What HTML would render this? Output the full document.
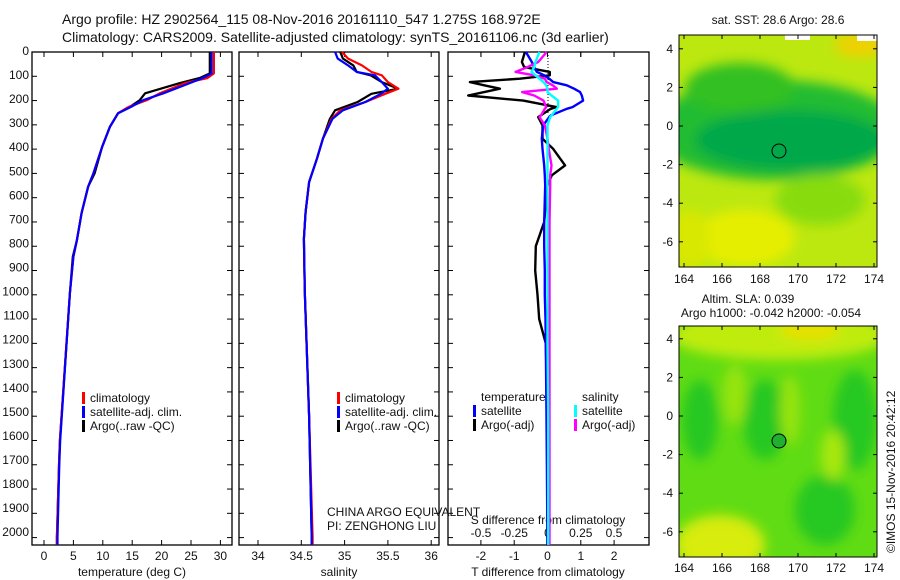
<!DOCTYPE html>
<html><head><meta charset="utf-8"><style>
body{margin:0;background:#fff;}
svg{display:block;font-family:"Liberation Sans",sans-serif;}
text{fill:#111;}
</style></head><body>
<svg id="fig" width="900" height="580" viewBox="0 0 900 580">
<defs>
<filter id="blur6" x="-20%" y="-20%" width="140%" height="140%"><feGaussianBlur stdDeviation="6"/></filter>
<clipPath id="c1"><rect x="679" y="35" width="198" height="232"/></clipPath>
<clipPath id="c2"><rect x="679" y="326" width="198" height="231"/></clipPath>
</defs>
<text x="62" y="24" font-size="14">Argo profile: HZ 2902564_115 08-Nov-2016 20161110_547 1.275S 168.972E</text>
<text x="62" y="42" font-size="14">Climatology: CARS2009. Satellite-adjusted climatology: synTS_20161106.nc (3d earlier)</text>

<!-- map 1 -->
<g clip-path="url(#c1)">
<rect x="679" y="35" width="198" height="232" fill="#bce810"/>
<g filter="url(#blur6)">
<ellipse cx="775" cy="130" rx="125" ry="50" fill="#20bc30"/>
<ellipse cx="790" cy="140" rx="95" ry="30" fill="#05a84a"/>
<ellipse cx="740" cy="88" rx="55" ry="25" fill="#30c020"/>
<ellipse cx="745" cy="238" rx="50" ry="28" fill="#e6ee00"/>
<ellipse cx="690" cy="240" rx="20" ry="30" fill="#d8e800"/>
<ellipse cx="860" cy="45" rx="25" ry="12" fill="#f0d000"/>
<ellipse cx="820" cy="200" rx="45" ry="25" fill="#88dc10"/>
</g>
<rect x="857" y="35" width="20" height="6" fill="#fff"/>
<rect x="785" y="35" width="25" height="5" fill="#fff"/>
<circle cx="779" cy="151" r="7" fill="none" stroke="#000" stroke-width="1"/>
</g>
<rect x="679" y="35" width="198" height="232" fill="none" stroke="#000"/>
<text x="778" y="24" font-size="12" text-anchor="middle">sat. SST: 28.6 Argo: 28.6</text>

<!-- map 2 -->
<g clip-path="url(#c2)">
<rect x="679" y="326" width="198" height="231" fill="#60dc14"/>
<g filter="url(#blur6)">
<ellipse cx="780" cy="335" rx="110" ry="25" fill="#c0ec10"/>
<ellipse cx="810" cy="330" rx="30" ry="10" fill="#e8e000"/>
<ellipse cx="720" cy="545" rx="45" ry="30" fill="#d8ec10"/>
<ellipse cx="700" cy="420" rx="18" ry="40" fill="#28c820"/>
<ellipse cx="765" cy="420" rx="22" ry="40" fill="#28c820"/>
<ellipse cx="855" cy="420" rx="22" ry="50" fill="#28c820"/>
<ellipse cx="825" cy="510" rx="30" ry="35" fill="#28c820"/>
<ellipse cx="735" cy="395" rx="12" ry="30" fill="#98e410"/>
<ellipse cx="790" cy="410" rx="10" ry="35" fill="#98e410"/>
<ellipse cx="833" cy="455" rx="12" ry="25" fill="#a8e810"/>
</g>
<circle cx="779" cy="441" r="7" fill="#20b030" stroke="#000" stroke-width="1"/>
</g>
<rect x="679" y="326" width="198" height="231" fill="none" stroke="#000"/>
<text x="748" y="303" font-size="12" text-anchor="middle">Altim. SLA: 0.039</text>
<text x="771" y="317" font-size="12" text-anchor="middle">Argo h1000: -0.042 h2000: -0.054</text>
<text transform="translate(895,553) rotate(-90)" font-size="12">©IMOS 15-Nov-2016 20:42:12</text>
<g id="plots"></g>
</svg>
<script>
// ---- data ----
const depthT = [0,88,107,128,170,198,226,252,308,390,500,555,663,775,843,993,1600,1700,2000,2030];
const tempArgo = [28.2,28.2,26.5,23.1,17.2,16.3,14.6,12.6,11.2,9.9,8.6,7.5,6.4,5.6,4.9,4.4,2.7,2.55,2.2,2.2];
const tempClim = [28.9,28.9,27.8,24.0,19.7,17.5,14.4,12.6,11.2,9.9,8.4,7.5,6.4,5.6,5.0,4.4,2.7,2.55,2.2,2.2];
const tempSat  = [28.5,28.5,27.0,24.8,20.3,16.9,14.8,12.6,11.2,9.9,8.4,7.5,6.4,5.6,5.0,4.4,2.75,2.6,2.3,2.3];
const depthS = [0,27,55,82,96,124,151,172,206,240,275,357,440,536,659,769,989,1500,2000,2030];
const salArgo = [34.95,34.98,35.1,35.14,35.3,35.43,35.62,35.31,35.15,34.89,34.83,34.75,34.68,34.59,34.55,34.53,34.54,34.59,34.62,34.62];
const salClim = [34.97,35.04,35.2,35.31,35.43,35.5,35.62,35.47,35.24,34.95,34.85,34.75,34.68,34.59,34.55,34.53,34.54,34.59,34.63,34.63];
const salSat  = [34.89,34.92,35.04,35.14,35.35,35.43,35.5,35.42,35.24,34.98,34.86,34.75,34.68,34.59,34.55,34.53,34.54,34.59,34.62,34.62];
const depthD = [0,41,62,82,96,110,124,137,151,165,179,200,227,234,261,268,302,357,399,467,508,549,700,800,900,1000,1100,1200,1500,2030];
const dTArgo = [-0.68,-0.77,-0.7,0.07,0.07,-0.83,-2.33,-1.9,-1.43,-1.9,-2.38,-0.73,0.27,0.1,-0.2,-0.28,-0.15,-0.15,0.17,0.53,0.13,0.0,-0.1,-0.35,-0.37,-0.3,-0.25,-0.05,0.0,0.0];
const dTSat  = [-0.65,-0.47,-0.4,-0.32,-0.1,0.05,0.17,0.58,0.8,0.98,1.03,1.07,0.75,0.58,0.1,0.05,-0.13,-0.17,-0.15,-0.1,-0.08,-0.07,-0.1,-0.1,-0.08,-0.08,-0.06,-0.05,-0.03,0.0];
const dSArgo = [-0.006,-0.07,-0.15,-0.24,-0.1,-0.02,-0.006,0.04,0.07,-0.19,-0.1,-0.03,-0.01,-0.02,-0.05,-0.06,-0.02,0.0,0.01,0.03,0.02,0.02,0.015,0.015,0.015,0.015,0.015,0.015,0.015,0.015];
const dSSat  = [-0.06,-0.09,-0.1,-0.12,-0.09,-0.06,-0.03,-0.01,0.0,0.0,0.03,0.08,0.08,0.07,0.03,0.02,0.0,0.0,0.0,0.0,0.0,0.0,0.0,0.0,0.0,0.0,0.0,0.0,0.005,0.005];
const tempTicks = [0,5,10,15,20,25,30];
const salTicks = [34,34.5,35,35.5,36];
const dTTicks = [-2,-1,0,1,2];
const dSTicks = [-0.5,-0.25,0,0.25,0.5];
const depthTicks = [0,100,200,300,400,500,600,700,800,900,1000,1100,1200,1300,1400,1500,1600,1700,1800,1900,2000];
const lonTicks = [164,166,168,170,172,174];
const latTicks = [4,2,0,-2,-4,-6];

// ---- axes ----
const TOP=52, BOT=545;
const yD = d => TOP + d*0.2428;
const xT = v => 44 + v*5.88;
const xS = v => 258 + (v-34)*86.6;
const xDT = v => 547.5 + v*33.3;
const xDS = v => 547.5 + v*133;
const lonX = v => 684 + (v-164)*19;
const latY1 = v => 126 - v*19.3;
const latY2 = v => 416 - v*19.3;

const NS='http://www.w3.org/2000/svg';
const G=document.getElementById('plots');
function mk(tag, attrs, parent){const e=document.createElementNS(NS,tag);for(const k in attrs)e.setAttribute(k,attrs[k]);(parent||G).appendChild(e);return e;}
function txt(x,y,s,anchor,size){const e=mk('text',{x:x,y:y,'font-size':size||12,'text-anchor':anchor||'middle'});e.textContent=s;return e;}

const panels=[[32,232],[239,439],[448,649]];
panels.forEach((p,i)=>{
  const r=mk('rect',{x:p[0],y:TOP,width:p[1]-p[0],height:BOT-TOP,fill:'none',stroke:'#000','stroke-width':1.3});
  
  
  depthTicks.forEach(d=>{
    mk('line',{x1:p[0],x2:p[0]+5,y1:yD(d),y2:yD(d),stroke:'#000'});
    mk('line',{x1:p[1]-5,x2:p[1],y1:yD(d),y2:yD(d),stroke:'#000'});
  });
});
depthTicks.forEach((d,i)=>{
  const t=txt(29,51+i*24.06+4,String(d),'end',12);
  
  
});
function xticks(ticks,fx,labY,ticksTopOnly){
  ticks.forEach(v=>{
    const x=fx(v);
    mk('line',{x1:x,x2:x,y1:TOP,y2:TOP+5,stroke:'#000'});
    if(!ticksTopOnly) mk('line',{x1:x,x2:x,y1:BOT-5,y2:BOT,stroke:'#000'});
    if(labY){const t=txt(x,labY,String(v));
      
      }
  });
}
xticks(tempTicks,xT,560);
xticks(salTicks,xS,560);
xticks(dTTicks,xDT,560);
xticks(dSTicks,xDS,537,true);
let t;
t=txt(132,576,'temperature (deg C)');
t=txt(339,576,'salinity');
t=txt(548,576,'T difference from climatology');
t=txt(548,524,'S difference from climatology');
t=txt(327,516,'CHINA ARGO EQUIVALENT','start');
t=txt(327,530,'PI: ZENGHONG LIU','start');

// dotted zero line
mk('line',{x1:548,x2:548,y1:TOP,y2:yD(260),stroke:'#000','stroke-dasharray':'1,2'});

function series(depths,vals,fx,color,name,w){
  const pts=depths.map((d,i)=>fx(vals[i]).toFixed(1)+','+yD(d).toFixed(1)).join(' ');
  const e=mk('polyline',{points:pts,fill:'none',stroke:color,'stroke-width':w||2.2,'stroke-linejoin':'round'});
  
  
}
series(depthT,tempArgo,xT,'#000','temp-argo-line');
series(depthT,tempClim,xT,'#f00','temp-climatology-line');
series(depthT,tempSat,xT,'#00f','temp-satellite-line');
series(depthS,salArgo,xS,'#000','sal-argo-line');
series(depthS,salClim,xS,'#f00','sal-climatology-line');
series(depthS,salSat,xS,'#00f','sal-satellite-line');
series(depthD,dTArgo,xDT,'#000','tdiff-argo-line',2.4);
series(depthD,dTSat,xDT,'#00f','tdiff-satellite-line',2.4);
series(depthD,dSArgo,xDS,'#f0f','sdiff-argo-line',2.4);
series(depthD,dSSat,xDS,'#0ff','sdiff-satellite-line',2.4);

function legend(x,y,items,name){
  items.forEach((it,i)=>{
    if(it[1]) mk('rect',{x:x,y:y+i*14-10,width:3,height:12,fill:it[1]});
    const e=txt(x+(it[1]?8:0),y+i*14,it[0],'start');
    
    
  });
}
legend(82,402,[['climatology','#f00'],['satellite-adj. clim.','#00f'],['Argo(..raw -QC)','#000']],'temp-legend');
legend(337,402,[['climatology','#f00'],['satellite-adj. clim.','#00f'],['Argo(..raw -QC)','#000']],'sal-legend');
legend(481,401,[['temperature',null]],'tdiff-legend');
legend(473,415,[['satellite','#00f'],['Argo(-adj)','#000']],'tdiff-legend');
legend(582,401,[['salinity',null]],'sdiff-legend');
legend(574,415,[['satellite','#0ff'],['Argo(-adj)','#f0f']],'sdiff-legend');

// map axes
[[35,267,latY1,283],[326,557,latY2,572]].forEach((m)=>{
  lonTicks.forEach(v=>{const x=lonX(v);
    mk('line',{x1:x,x2:x,y1:m[0],y2:m[0]+4,stroke:'#000'});
    mk('line',{x1:x,x2:x,y1:m[1]-4,y2:m[1],stroke:'#000'});
    const e=txt(x,m[3],String(v));
    
    });
  latTicks.forEach(v=>{const y=m[2](v);
    mk('line',{x1:679,x2:683,y1:y,y2:y,stroke:'#000'});
    mk('line',{x1:873,x2:877,y1:y,y2:y,stroke:'#000'});
    const e=txt(673,y+4,String(v),'end');
    
    });
});
</script>
</body></html>
